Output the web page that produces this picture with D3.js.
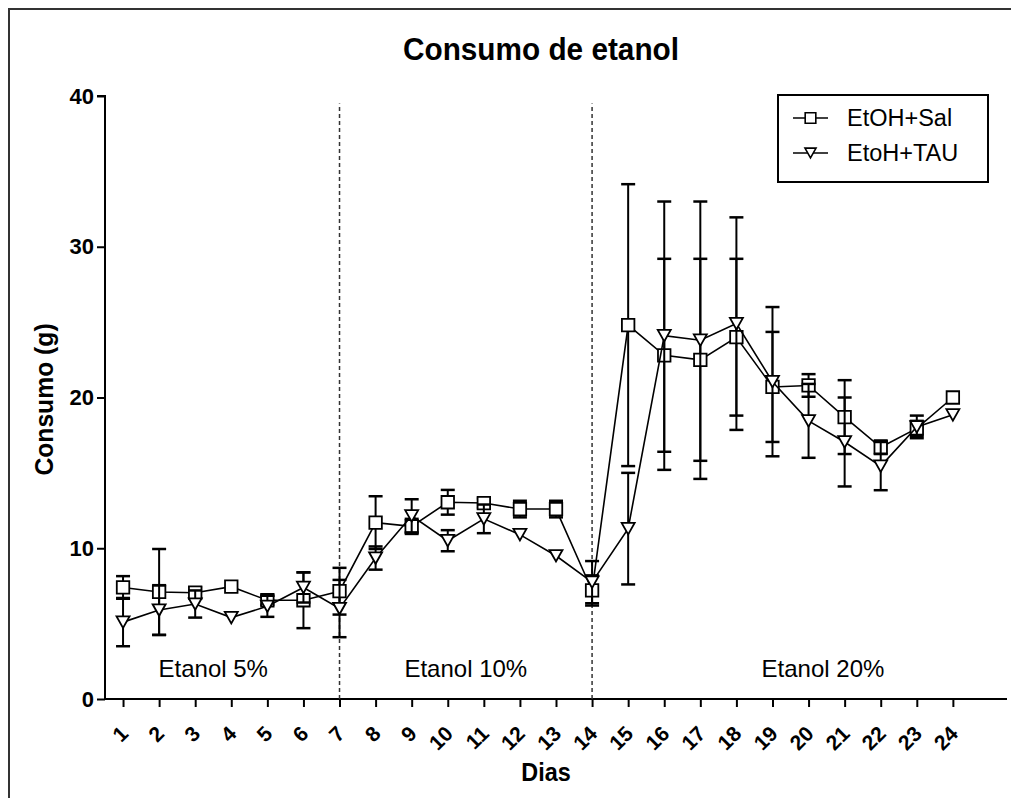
<!DOCTYPE html>
<html>
<head>
<meta charset="utf-8">
<script src="https://cdn.jsdelivr.net/npm/d3@7"></script>
<style>
  html, body { margin: 0; padding: 0; background: #fff; }
  svg { display: block; font-family: "Liberation Sans", Arial, sans-serif; }
</style>
</head>
<body>
<svg id="chart" width="1011" height="798"></svg>
<script>
// Daily ethanol intake (g), mean ± error, for the two groups
const days = [1, 2, 3, 4, 5, 6, 7, 8, 9, 10, 11, 12, 13, 14, 15, 16, 17, 18, 19, 20, 21, 22, 23, 24];

const salMean = [7.4, 7.1, 7.05, 7.45, 6.55, 6.55, 7.15, 11.7, 11.45, 13.05, 13.0, 12.6,
                 12.6, 7.2, 24.8, 22.8, 22.5, 24.0, 20.7, 20.8, 18.7, 16.7, 17.95, 20.0];
const salErr  = [0.75, 2.85, 0.35, 0, 0.3, 1.85, 1.55, 1.75, 0.5, 0.82, 0.3, 0.55,
                 0.55, 1.0, 9.35, 6.4, 6.7, 5.2, 3.65, 0.75, 2.45, 0.45, 0.5, 0];

const tauMean = [5.1, 5.9, 6.3, 5.4, 6.15, 7.4, 6.0, 9.35, 12.15, 10.5, 11.95, 10.9,
                 9.5, 7.75, 11.3, 24.1, 23.8, 24.9, 21.05, 18.45, 17.05, 15.45, 18.05, 18.85];
const tauErr  = [1.6, 1.65, 0.9, 0, 0.7, 1.0, 1.9, 0.77, 1.1, 0.7, 0.95, 0,
                 0, 1.4, 3.7, 8.9, 9.2, 7.05, 4.95, 2.45, 2.95, 1.6, 0.75, 0];

const seriesNames = ["EtOH+Sal", "EtoH+TAU"];
const yTicks = [0, 10, 20, 30, 40];

// Phase boundaries (days) and phase labels
const phaseBreaks = [7, 14];
const phaseLabels = ["Etanol 5%", "Etanol 10%", "Etanol 20%"];

// ---- layout ----
const svg = d3.select("#chart");
const plot = { left: 105, right: 1007, top: 96, bottom: 699 };
const phaseLabelX = [3.5, 10.5, 20.4];   // centre of each phase label, in day units
const phaseLabelY = 1.45;                // baseline of phase labels, in y units
const FONT = "Liberation Sans, Arial, sans-serif";

const x = d3.scaleLinear().domain([0.5, 25.5]).range([plot.left, plot.right]);
const y = d3.scaleLinear().domain([0, 40]).range([plot.bottom, plot.top]);

// outer frame (top and left edges)
svg.append("path")
  .attr("d", "M9,798 V9 H1011")
  .attr("fill", "none").attr("stroke", "#333").attr("stroke-width", 2);

// title
svg.append("text")
  .attr("transform", "translate(541,60) scale(0.93,1)")
  .attr("text-anchor", "middle")
  .attr("font-size", 32).attr("font-weight", "bold")
  .text("Consumo de etanol");

// y axis
const yAxis = d3.axisLeft(y).tickValues(yTicks).tickSize(8).tickPadding(3).tickFormat(d3.format("d"));
const gy = svg.append("g").attr("transform", `translate(${plot.left},0)`).call(yAxis);
gy.select(".domain").attr("stroke-width", 2).attr("d", `M-8,${plot.top}H0V${plot.bottom}`);
gy.selectAll(".tick line").attr("stroke-width", 2);
gy.selectAll(".tick text").attr("font-size", 22).attr("font-weight", "bold")
  .attr("font-family", FONT).attr("fill", "#000");

// x axis
const xAxis = d3.axisBottom(x).tickValues(days).tickSize(8).tickFormat(d3.format("d"));
const gx = svg.append("g").attr("transform", `translate(0,${plot.bottom})`).call(xAxis);
gx.select(".domain").attr("stroke-width", 2).attr("d", `M${plot.left},0H${plot.right}`);
gx.selectAll(".tick line").attr("stroke-width", 2);
gx.selectAll(".tick text")
  .attr("font-size", 21).attr("font-weight", "bold")
  .attr("font-family", FONT).attr("fill", "#000")
  .attr("text-anchor", "end")
  .attr("dominant-baseline", "middle")
  .attr("y", 0).attr("dy", 0)
  .attr("transform", "translate(2,32) rotate(-45)");

// axis titles
svg.append("text")
  .attr("transform", "translate(546,781) scale(0.9,1)")
  .attr("text-anchor", "middle")
  .attr("font-size", 26).attr("font-weight", "bold")
  .text("Dias");

svg.append("text")
  .attr("transform", `translate(53,${(plot.top + plot.bottom) / 2 + 2}) rotate(-90) scale(0.95,1)`)
  .attr("text-anchor", "middle")
  .attr("font-size", 26).attr("font-weight", "bold")
  .text("Consumo (g)");

// phase separators
svg.selectAll("line.phase").data(phaseBreaks).join("line")
  .attr("class", "phase")
  .attr("x1", d => x(d)).attr("x2", d => x(d))
  .attr("y1", y(0)).attr("y2", y(39.5))
  .attr("stroke", "#333").attr("stroke-width", 1.5)
  .attr("stroke-dasharray", "4,3");

// phase labels
svg.selectAll("text.phase").data(phaseLabels).join("text")
  .attr("class", "phase")
  .attr("x", (d, i) => x(phaseLabelX[i]))
  .attr("y", y(phaseLabelY))
  .attr("text-anchor", "middle")
  .attr("font-size", 24)
  .text(d => d);

// ---- series ----
const series = [
  { name: seriesNames[0], mean: salMean, err: salErr, shape: "square" },
  { name: seriesNames[1], mean: tauMean, err: tauErr, shape: "triangle" }
];

const capHalf = 7;
const sq = 12.5;
const triW = 13, triH = 11.5;

function markerPath(shape, cx, cy, scale = 1) {
  if (shape === "square") {
    const h = sq * scale / 2;
    return `M${cx - h},${cy - h}H${cx + h}V${cy + h}H${cx - h}Z`;
  }
  const w = triW * scale / 2, h = triH * scale / 2;
  return `M${cx - w},${cy - h}H${cx + w}L${cx},${cy + h}Z`;
}

series.forEach(s => {
  const g = svg.append("g");
  const pts = days.map((d, i) => ({ day: d, m: s.mean[i], e: s.err[i] }));

  // error bars
  const eb = g.append("g");
  pts.filter(p => p.e > 0).forEach(p => {
    const cx = x(p.day);
    eb.append("line").attr("x1", cx).attr("x2", cx)
      .attr("y1", y(p.m + p.e)).attr("y2", y(p.m - p.e))
      .attr("stroke", "#000").attr("stroke-width", 2);
    [p.m + p.e, p.m - p.e].forEach(v => {
      eb.append("line").attr("x1", cx - capHalf).attr("x2", cx + capHalf)
        .attr("y1", y(v)).attr("y2", y(v))
        .attr("stroke", "#000").attr("stroke-width", 2.5);
    });
  });

  // connecting line
  g.append("path")
    .datum(pts)
    .attr("fill", "none").attr("stroke", "#000").attr("stroke-width", 1.6)
    .attr("d", d3.line().x(p => x(p.day)).y(p => y(p.m)));

  // markers
  g.selectAll("path.mk").data(pts).join("path")
    .attr("class", "mk")
    .attr("d", p => markerPath(s.shape, x(p.day), y(p.m)))
    .attr("fill", "#fff").attr("stroke", "#000").attr("stroke-width", 1.8);
});

// ---- legend ----
const lg = svg.append("g");
lg.append("rect")
  .attr("x", 778).attr("y", 95).attr("width", 210).attr("height", 87)
  .attr("fill", "#fff").attr("stroke", "#000").attr("stroke-width", 2);

series.forEach((s, i) => {
  const cy = 118 + i * 35;
  lg.append("line").attr("x1", 793).attr("x2", 828).attr("y1", cy).attr("y2", cy)
    .attr("stroke", "#000").attr("stroke-width", 1.6);
  lg.append("path").attr("d", markerPath(s.shape, 810.5, cy, 0.85))
    .attr("fill", "#fff").attr("stroke", "#000").attr("stroke-width", 1.6);
  lg.append("text").attr("x", 847).attr("y", cy).attr("dy", "0.36em")
    .attr("font-size", 23.5).text(s.name);
});
</script>
</body>
</html>
